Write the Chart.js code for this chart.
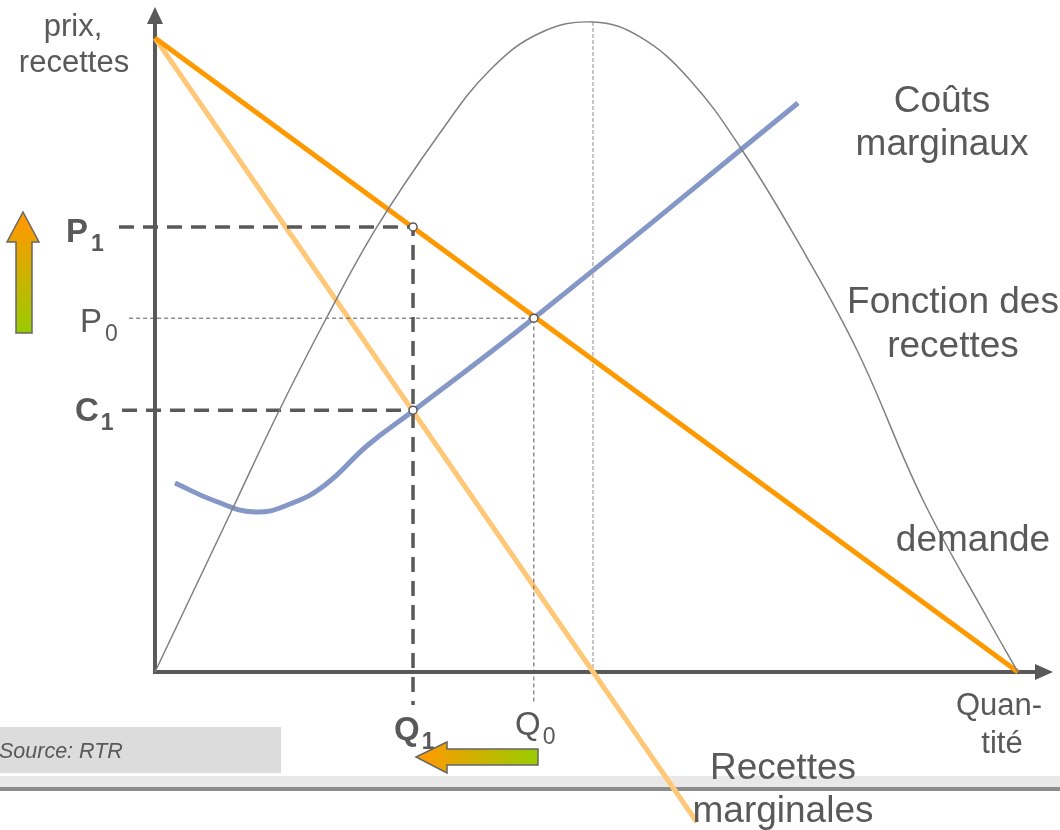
<!DOCTYPE html>
<html><head><meta charset="utf-8">
<script src="https://cdn.jsdelivr.net/npm/chart.js@4/dist/chart.umd.min.js"></script>
<style>html,body{margin:0;padding:0;background:#fff;overflow:hidden}#wrap{width:1060px;height:830px;position:relative}canvas{display:block}</style>
</head><body><div id="wrap"><canvas id="c" width="1060" height="830"></canvas></div>
<script>
// ---- data (quantity Q, price P) ----
const demandQ = [0, 10];
const demandP = [10, 0];
const mrQ = [0, 6.28];
const mrP = [10, -2.37];
const mcQ = [0.232, 0.695, 1.159, 1.564, 1.970, 2.468, 2.990, 4.392, 7.451];
const mcP = [2.981, 2.697, 2.524, 2.650, 2.950, 3.580, 4.117, 5.584, 8.975];
const revQ = [0, 0.892, 1.425, 1.993, 2.572, 3.302, 3.882, 4.461, 5.075, 5.620, 6.199, 6.802, 7.439, 8.134, 8.899, 9.676, 10];
const revP = [0, 2.555, 4.085, 5.599, 7.019, 8.502, 9.495, 10.079, 10.252, 10.016, 9.338, 8.233, 6.814, 5.079, 2.713, 0.773, 0];
const Q1 = 2.99, P1 = 7.02, C1 = 4.13, Q0 = 4.39, P0 = 5.58, Qpeak = 5.075, Ppeak = 10.252;
const labels = {
  yTitle: ['prix,', 'recettes'],
  xTitle: ['Quan-', 'tité'],
  mc: ['Coûts', 'marginaux'],
  rev: ['Fonction des', 'recettes'],
  demand: ['demande'],
  mr: ['Recettes', 'marginales'],
  source: 'Source: RTR'
};

const pts = (qs, ps) => qs.map((q, i) => ({x: q, y: ps[i]}));
const GREY = '#595959';
const FONT = '"Liberation Sans", Arial, sans-serif';

const decor = {
  id: 'decor',
  beforeDatasetsDraw(chart) {
    const ctx = chart.ctx, xs = chart.scales.x, ys = chart.scales.y;
    const ox = xs.getPixelForValue(0), oy = ys.getPixelForValue(0);
    ctx.save();
    ctx.fillStyle = '#dcdcdc';
    ctx.fillRect(0, 727, 281, 46);
    ctx.fillStyle = '#e8e8e8';
    ctx.fillRect(0, 776, 1060, 11);
    ctx.fillStyle = '#8c8c8c';
    ctx.fillRect(0, 787, 1060, 4);
    ctx.strokeStyle = GREY; ctx.fillStyle = GREY; ctx.lineWidth = 4;
    ctx.beginPath();
    ctx.moveTo(ox, 22); ctx.lineTo(ox, oy + 2);
    ctx.moveTo(ox - 2, oy); ctx.lineTo(1037, oy);
    ctx.stroke();
    ctx.beginPath();
    ctx.moveTo(ox, 7); ctx.lineTo(ox + 8, 24); ctx.lineTo(ox - 8, 24); ctx.closePath(); ctx.fill();
    ctx.beginPath();
    ctx.moveTo(1053, oy); ctx.lineTo(1035, oy - 8); ctx.lineTo(1035, oy + 8); ctx.closePath(); ctx.fill();
    ctx.restore();
  },
  afterDatasetsDraw(chart) {
    const ctx = chart.ctx;
    ctx.save();
    ctx.fillStyle = GREY;
    ctx.textBaseline = 'alphabetic';
    const t = (s, x, y, size, align, style) => {
      ctx.font = (style || '') + ' ' + size + 'px ' + FONT;
      ctx.textAlign = align || 'center';
      ctx.fillText(s, x, y);
      return ctx.measureText(s).width;
    };
    const sub = (main, s, x, y, style, gap) => {
      const w = t(main, x, y, 33, 'left', style);
      t(s, x + w + gap, y + 9, 23, 'left', style);
    };
    t(labels.yTitle[0], 73, 36, 31);
    t(labels.yTitle[1], 74, 72, 31);
    t(labels.mc[0], 942, 112, 37);
    t(labels.mc[1], 942, 155, 37);
    t(labels.rev[0], 953, 313, 37);
    t(labels.rev[1], 953, 357, 37);
    t(labels.demand[0], 973, 551, 37);
    t(labels.xTitle[0], 999, 715, 31);
    t(labels.xTitle[1], 1002, 753, 31);
    t(labels.mr[0], 783, 779, 37);
    t(labels.mr[1], 783, 822, 37);
    t(labels.source, -1, 758, 21.5, 'left', 'italic');
    sub('P', '1', 66, 242, 'bold', 3);
    sub('P', '0', 80, 332, '', 3);
    sub('C', '1', 75, 421, 'bold', 2);
    sub('Q', '1', 394, 740, 'bold', 2);
    sub('Q', '0', 515, 735, '', 2);
    const arrow = (poly, g0, g1) => {
      const g = ctx.createLinearGradient(g0[0], g0[1], g1[0], g1[1]);
      g.addColorStop(0, '#ff9900'); g.addColorStop(1, '#99cc00');
      ctx.beginPath();
      poly.forEach((p, i) => i ? ctx.lineTo(p[0], p[1]) : ctx.moveTo(p[0], p[1]));
      ctx.closePath();
      ctx.fillStyle = g; ctx.fill();
      ctx.strokeStyle = '#666'; ctx.lineWidth = 1.5; ctx.stroke();
    };
    arrow([[23,212],[39,242],[32,242],[32,333],[16,333],[16,242],[7,242]], [0,220], [0,333]);
    arrow([[416,757],[447,742],[447,749],[538,749],[538,765],[447,765],[447,773]], [420,0], [538,0]);
    ctx.restore();
  }
};

const line = (data, color, width, extra) => Object.assign({
  data, showLine: true, borderColor: color, borderWidth: width,
  pointRadius: 0, fill: false, borderCapStyle: 'butt', tension: 0
}, extra || {});

new Chart(document.getElementById('c'), {
  type: 'scatter',
  data: {
    datasets: [
      Object.assign(line([{x: Q1, y: P1}, {x: Q1, y: C1}, {x: Q0, y: P0}], GREY, 0), {
        showLine: false, pointRadius: 4, pointBackgroundColor: '#fff',
        pointBorderColor: GREY, pointBorderWidth: 1.5, order: 0
      }),
      line(pts(revQ, revP), '#808080', 1.5, {tension: 0.4, order: 1}),
      line([{x: -0.417, y: P1}, {x: Q1, y: P1}, {x: Q1, y: -0.52}], GREY, 3.5, {borderDash: [15, 9], order: 2}),
      line([{x: -0.382, y: C1}, {x: Q1, y: C1}], GREY, 3.5, {borderDash: [15, 9], order: 2}),
      line([{x: -0.30, y: P0}, {x: Q0, y: P0}, {x: Q0, y: -0.49}], GREY, 1, {borderDash: [4, 3], order: 2}),
      line(pts(demandQ, demandP), '#ff9900', 5, {order: 3}),
      line(pts(mrQ, mrP), '#ffc878', 5, {order: 4}),
      line(pts(mcQ, mcP), '#8497c6', 5, {tension: 0.45, order: 5}),
      line([{x: Qpeak, y: Ppeak}, {x: Qpeak, y: 0}], '#b4b4b4', 1.5, {borderDash: [4, 2], order: 6})
    ]
  },
  options: {
    responsive: false, animation: false, devicePixelRatio: 1,
    layout: {padding: 0, autoPadding: false},
    plugins: {legend: {display: false}, tooltip: {enabled: false}},
    events: [],
    scales: {
      x: {type: 'linear', min: -1.796, max: 10.487, display: false},
      y: {type: 'linear', min: -2.492, max: 10.599, display: false}
    }
  },
  plugins: [decor]
});
</script>
</body></html>
